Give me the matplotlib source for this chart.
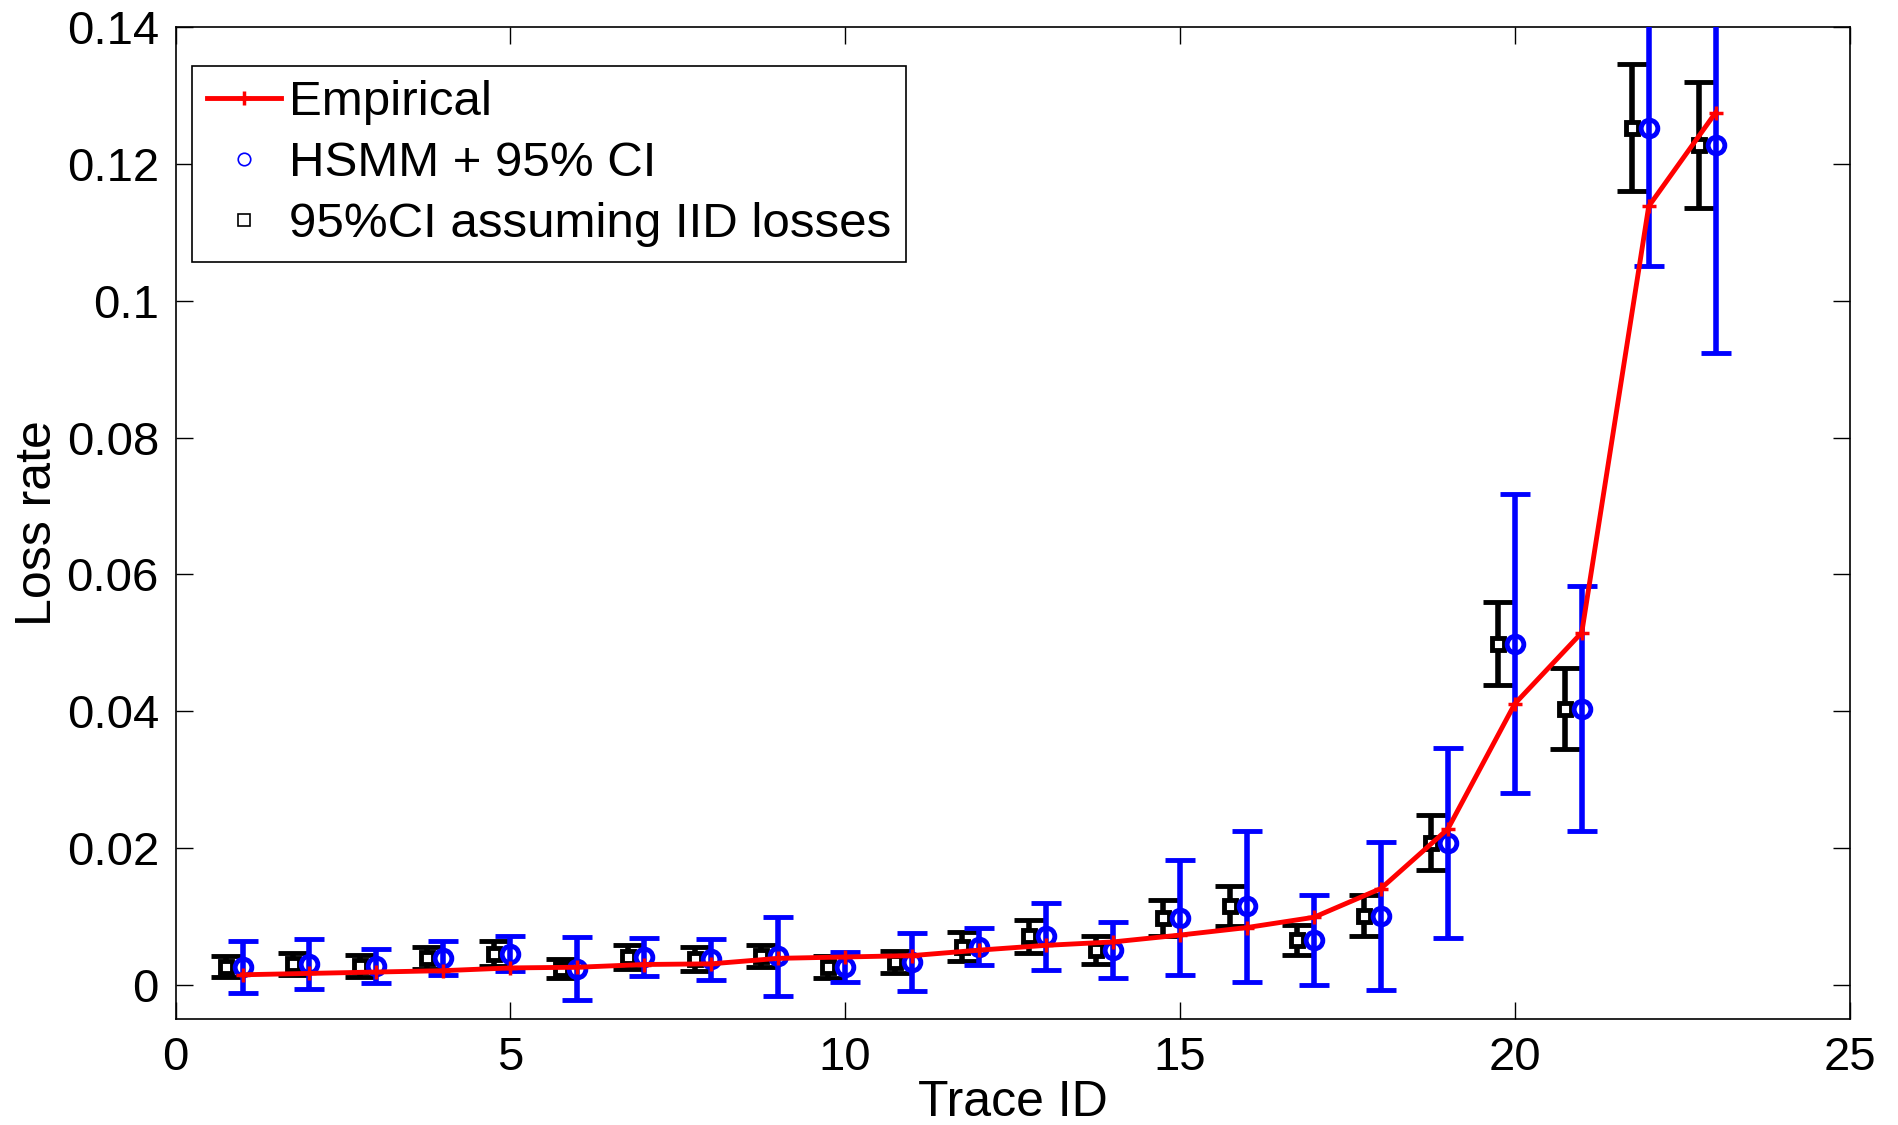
import numpy as np
import matplotlib
matplotlib.use("Agg")
import matplotlib.pyplot as plt
from matplotlib.lines import Line2D

plt.rcParams['font.family'] = ['Liberation Sans', 'DejaVu Sans']

# Data
trace_id = np.arange(1, 24)
empirical = [0.0015, 0.0017, 0.0019, 0.0021, 0.0025, 0.0026, 0.0030, 0.0031,
             0.0039, 0.0041, 0.0043, 0.0051, 0.0058, 0.0063, 0.0073, 0.0084,
             0.0099, 0.0141, 0.0228, 0.0411, 0.0515, 0.1138, 0.1275]
hsmm = [0.0027, 0.0031, 0.0028, 0.0039, 0.0046, 0.0024, 0.0041, 0.0038,
        0.0042, 0.0027, 0.0034, 0.0056, 0.0071, 0.0051, 0.0098, 0.0115,
        0.0066, 0.0101, 0.0208, 0.0499, 0.0404, 0.1253, 0.1228]
hsmm_ci = [0.0038, 0.0037, 0.0025, 0.0025, 0.0026, 0.0046, 0.0028, 0.0030,
           0.0058, 0.0022, 0.0042, 0.0027, 0.0049, 0.0041, 0.0084, 0.0110,
           0.0066, 0.0108, 0.0139, 0.0218, 0.0179, 0.0202, 0.0305]
iid_ci = [0.0015, 0.0016, 0.0016, 0.0016, 0.0018, 0.0014, 0.0017, 0.0017,
          0.0016, 0.0016, 0.0016, 0.0021, 0.0024, 0.0020, 0.0026, 0.0029,
          0.0022, 0.0030, 0.0040, 0.0061, 0.0059, 0.0093, 0.0092]

fig = plt.figure(figsize=(18.98, 11.25), dpi=100)
ax = fig.add_axes([0.0925, 0.094, 0.882, 0.882])

# IID error bars, shifted slightly left
ax.errorbar(trace_id - 0.25, hsmm, yerr=iid_ci, fmt='s', color='black',
            mfc='white', mec='black', ms=9, mew=3.5, elinewidth=4,
            capsize=11, capthick=4, zorder=2)

# HSMM estimates with 95% CI
ax.errorbar(trace_id, hsmm, yerr=hsmm_ci, fmt='o', color='blue',
            mfc='none', mec='blue', ms=12, mew=3.5, elinewidth=4,
            capsize=11, capthick=4, zorder=3)

# Empirical loss rates
ax.plot(trace_id, empirical, color='red', linewidth=3.5, marker='+',
        ms=10, mew=2.5, zorder=4)

ax.set_xlim(0, 25)
ax.set_ylim(-0.005, 0.14)
ax.set_xticks(np.arange(0, 26, 5))
ax.set_yticks(np.arange(0, 0.141, 0.02))
ax.set_yticklabels(['0', '0.02', '0.04', '0.06', '0.08', '0.1', '0.12', '0.14'])
ax.tick_params(direction='in', length=12, width=1, top=True, right=True,
               labelsize=34, pad=12)
for sp in ax.spines.values():
    sp.set_linewidth(1.2)

ax.set_xlabel('Trace ID', fontsize=36, labelpad=0)
ax.set_ylabel('Loss rate', fontsize=36, labelpad=4)

handles = [
    Line2D([], [], color='red', linewidth=3.5, marker='+', ms=10, mew=2.5),
    Line2D([], [], linestyle='none', marker='o', mfc='none', mec='blue',
           ms=9, mew=1.2),
    Line2D([], [], linestyle='none', marker='s', mfc='none', mec='black',
           ms=8, mew=1.2),
]
leg = ax.legend(handles, ['Empirical', 'HSMM + 95% CI', '95%CI assuming IID losses'],
                loc='upper left', bbox_to_anchor=(0.0097, 0.961), fontsize=35.5,
                frameon=True, fancybox=False, edgecolor='black', framealpha=1,
                borderpad=0.3, labelspacing=0.32, handlelength=1.5,
                handletextpad=0.17, borderaxespad=0)
leg.get_frame().set_linewidth(1.2)

fig.savefig('out.png', dpi=100)
